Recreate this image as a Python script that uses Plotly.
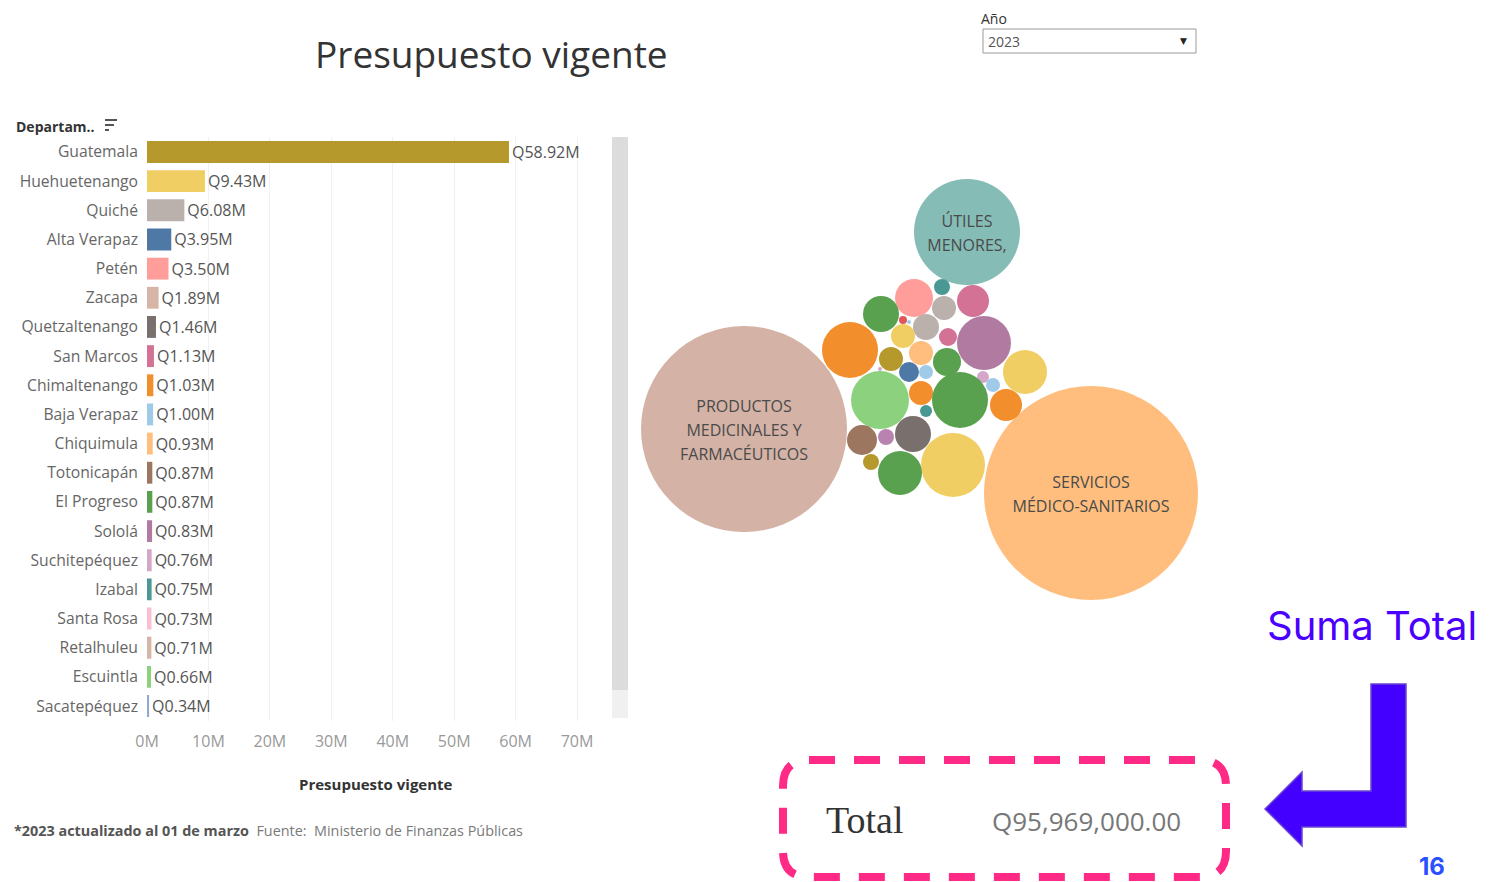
import plotly.graph_objects as go

OFF = 8                      # page body margin of the rendered HTML
W, H = 1499 - OFF, 882 - OFF

# ---------------- data ----------------
departamentos = ["Guatemala", "Huehuetenango", "Quiché", "Alta Verapaz", "Petén", "Zacapa",
                 "Quetzaltenango", "San Marcos", "Chimaltenango", "Baja Verapaz", "Chiquimula",
                 "Totonicapán", "El Progreso", "Sololá", "Suchitepéquez", "Izabal", "Santa Rosa",
                 "Retalhuleu", "Escuintla", "Sacatepéquez"]
presupuesto_m = [58.92, 9.43, 6.08, 3.95, 3.50, 1.89, 1.46, 1.13, 1.03, 1.00, 0.93,
                 0.87, 0.87, 0.83, 0.76, 0.75, 0.73, 0.71, 0.66, 0.34]
colores_dep = ["#b6992d", "#f1ce63", "#bab0ac", "#4e79a7", "#ff9d9a", "#d7b5a6",
               "#79706e", "#d37295", "#f28e2b", "#a0cbe8", "#ffbe7d",
               "#9d7660", "#59a14f", "#b07aa1", "#d4a6c8", "#499894", "#fabfd2",
               "#d7b5a6", "#8cd17d", "#8fa9d0"]
x_ticks = [0, 10, 20, 30, 40, 50, 60, 70]
x_tick_labels = ["0M", "10M", "20M", "30M", "40M", "50M", "60M", "70M"]

# bubble chart (renglones de gasto) – estimated centre/radius in the packed layout
bubble_labels = [["ÚTILES", "MENORES,"], ["PRODUCTOS", "MEDICINALES Y", "FARMACÉUTICOS"],
                 ["SERVICIOS", "MÉDICO-SANITARIOS"]]
bubble_x = [967, 744, 1091,
            914, 942, 973, 881, 944, 903, 909, 926, 948, 984, 903, 850, 921, 891, 947, 880,
            909, 926, 1025, 983, 993, 880, 921, 960, 1006, 926, 862, 886, 913, 953, 871, 900]
bubble_y = [232, 429, 493,
            298, 287, 301, 314, 308, 320, 322, 327, 337, 343, 336, 350, 353, 359, 362, 369,
            372, 372, 372, 377, 385, 400, 393, 400, 405, 411, 440, 437, 434, 465, 462, 473]
bubble_r = [53, 103, 107,
            19, 8, 16, 18, 12, 4, 2, 13, 9, 27, 12, 28, 12, 12, 14, 2,
            10, 7, 22, 6, 7, 29, 12, 28, 16, 6, 15, 8, 18, 32, 8, 22]
bubble_colors = ["#86bcb6", "#d4b2a6", "#ffbe7d",
                 "#ff9d9a", "#499894", "#d37295", "#59a14f", "#bab0ac", "#e15759", "#a0cbe8",
                 "#bab0ac", "#d37295", "#b07aa1", "#f1ce63", "#f28e2b", "#ffbe7d", "#b6992d",
                 "#59a14f", "#d4a6c8", "#4e79a7", "#a0cbe8", "#f1ce63", "#d4a6c8", "#a0cbe8",
                 "#8cd17d", "#f28e2b", "#59a14f", "#f28e2b", "#499894", "#9d7660", "#b983b0",
                 "#79706e", "#f1ce63", "#b6992d", "#59a14f"]

total_text = "Q95,969,000.00"

FONT = "Open Sans"


def fx(px):
    return (px - OFF) / W


def fy(py):
    return 1 - (py - OFF) / H


fig = go.Figure()

# ---------------- bar chart ----------------
fig.add_trace(go.Bar(
    orientation="h",
    y=departamentos,
    x=presupuesto_m,
    marker=dict(color=colores_dep, line=dict(width=0)),
    width=0.75,
    text=[f"Q{v:.2f}M" for v in presupuesto_m],
    textposition="outside",
    textfont=dict(family=FONT, size=16, color="#555555"),
    constraintext="none",
    cliponaxis=False,
    hoverinfo="skip",
    xaxis="x", yaxis="y",
))

# ---------------- bubble chart ----------------
fig.add_trace(go.Scatter(
    x=bubble_x, y=bubble_y,
    mode="markers",
    marker=dict(size=[2 * r for r in bubble_r], sizemode="diameter",
                color=bubble_colors, opacity=1, line=dict(width=0)),
    hoverinfo="skip",
    xaxis="x2", yaxis="y2",
))

# labels of the big bubbles (one text per line, 24 px line spacing)
lx, ly, lt = [], [], []
for i, lines in enumerate(bubble_labels):
    n = len(lines)
    for j, line in enumerate(lines):
        lx.append(bubble_x[i])
        ly.append(bubble_y[i] + 3 + (j - (n - 1) / 2) * 24)
        lt.append(line)
fig.add_trace(go.Scatter(
    x=lx, y=ly, mode="text", text=lt, textposition="middle center",
    textfont=dict(family=FONT, size=16, color="#4a4a4a"),
    hoverinfo="skip", xaxis="x2", yaxis="y2",
))

shapes = []
annotations = []

# scrollbar
shapes.append(dict(type="rect", xref="paper", yref="paper",
                   x0=fx(612), x1=fx(628), y0=fy(690), y1=fy(137),
                   fillcolor="#dcdcdc", line=dict(width=0), layer="below"))
shapes.append(dict(type="rect", xref="paper", yref="paper",
                   x0=fx(612), x1=fx(628), y0=fy(718), y1=fy(690),
                   fillcolor="#f0f0f0", line=dict(width=0), layer="below"))

# sort icon
for (x0, x1, yy) in [(105, 117, 120), (105, 114, 125), (105, 109, 130)]:
    shapes.append(dict(type="line", xref="paper", yref="paper",
                       x0=fx(x0), x1=fx(x1), y0=fy(yy), y1=fy(yy),
                       line=dict(color="#555555", width=2)))

# dropdown
shapes.append(dict(type="rect", xref="paper", yref="paper",
                   x0=fx(983), x1=fx(1196), y0=fy(53), y1=fy(29),
                   fillcolor="white", line=dict(color="#9a9a9a", width=1)))

# dashed rounded box around total
bx0, bx1, by0, by1, rr = 783, 1226, 760, 877, 26
path = (f"M {fx(bx0 + rr)},{fy(by0)} L {fx(bx1 - rr)},{fy(by0)} "
        f"Q {fx(bx1)},{fy(by0)} {fx(bx1)},{fy(by0 + rr)} "
        f"L {fx(bx1)},{fy(by1 - rr)} Q {fx(bx1)},{fy(by1)} {fx(bx1 - rr)},{fy(by1)} "
        f"L {fx(bx0 + rr)},{fy(by1)} Q {fx(bx0)},{fy(by1)} {fx(bx0)},{fy(by1 - rr)} "
        f"L {fx(bx0)},{fy(by0 + rr)} Q {fx(bx0)},{fy(by0)} {fx(bx0 + rr)},{fy(by0)} Z")
shapes.append(dict(type="path", xref="paper", yref="paper", path=path,
                   line=dict(color="#ff2a85", width=8, dash="26px,19px")))

# arrow
arrow_pts = [(1371, 684), (1406, 684), (1406, 827), (1302, 827), (1302, 846),
             (1265, 809), (1302, 772), (1302, 791), (1371, 791)]
apath = "M " + " L ".join(f"{fx(a)},{fy(b)}" for a, b in arrow_pts) + " Z"
shapes.append(dict(type="path", xref="paper", yref="paper", path=apath,
                   fillcolor="#4400ff", line=dict(color="#6a45cf", width=1.5)))

# texts
annotations += [
    dict(x=fx(491), y=fy(53), text="Presupuesto vigente", showarrow=False,
         xref="paper", yref="paper", xanchor="center", yanchor="middle",
         font=dict(family=FONT, size=37, color="#333333")),
    dict(x=fx(14), y=fy(126), text="<b>Departam..</b>", showarrow=False,
         xref="paper", yref="paper", xanchor="left", yanchor="middle",
         font=dict(family=FONT, size=14, color="#333333")),
    dict(x=fx(376), y=fy(784), text="<b>Presupuesto vigente</b>", showarrow=False,
         xref="paper", yref="paper", xanchor="center", yanchor="middle",
         font=dict(family=FONT, size=15, color="#333333")),
    dict(x=fx(12), y=fy(830),
         text="<span style='color:#555555'><b>*2023 actualizado al 01 de marzo</b></span>"
              "  <span style='color:#7a7a7a'>Fuente:  Ministerio de Finanzas Públicas</span>",
         showarrow=False, xref="paper", yref="paper", xanchor="left", yanchor="middle",
         font=dict(family=FONT, size=14.4, color="#555555")),
    dict(x=fx(980), y=fy(8), text="Año", showarrow=False,
         xref="paper", yref="paper", xanchor="left", yanchor="top",
         borderpad=0, font=dict(family=FONT, size=14, color="#333333")),
    dict(x=fx(986), y=fy(41), text="2023", showarrow=False,
         xref="paper", yref="paper", xanchor="left", yanchor="middle",
         font=dict(family=FONT, size=14, color="#555555")),
    dict(x=fx(1183), y=fy(41), text="▼", showarrow=False,
         xref="paper", yref="paper", xanchor="center", yanchor="middle",
         font=dict(family="DejaVu Sans", size=9, color="#222222")),
    dict(x=fx(865), y=fy(820), text="Total", showarrow=False,
         xref="paper", yref="paper", xanchor="center", yanchor="middle",
         font=dict(family="Liberation Serif", size=38, color="#333333")),
    dict(x=fx(1086), y=fy(821), text=total_text, showarrow=False,
         xref="paper", yref="paper", xanchor="center", yanchor="middle",
         font=dict(family=FONT, size=26, color="#777777")),
    dict(x=fx(1372), y=fy(625), text="Suma Total", showarrow=False,
         xref="paper", yref="paper", xanchor="center", yanchor="middle",
         font=dict(family="Inter", size=40, color="#4a00ff")),
    dict(x=fx(1432), y=fy(866), text="<b>16</b>", showarrow=False,
         xref="paper", yref="paper", xanchor="center", yanchor="middle",
         font=dict(family="Inter", size=24, color="#2a50ff")),
]

fig.update_layout(
    width=W, height=H,
    margin=dict(l=0, r=0, t=0, b=0, autoexpand=False),
    paper_bgcolor="white", plot_bgcolor="white",
    showlegend=False,
    xaxis=dict(domain=[fx(147), fx(605)], range=[0, 74.55],
               tickvals=x_ticks, ticktext=x_tick_labels,
               tickfont=dict(family=FONT, size=16, color="#999999"),
               showgrid=True, gridcolor="#f0f0f0", gridwidth=1,
               zeroline=False, showline=False, ticks="",
               ticklabelstandoff=9, fixedrange=True, automargin=False),
    yaxis=dict(domain=[fy(720.6), fy(137.4)],
               categoryorder="array", categoryarray=departamentos,
               autorange="reversed",
               tickfont=dict(family=FONT, size=15.7, color="#666666"),
               showgrid=False, zeroline=False, showline=False, ticks="",
               ticklabelstandoff=8, fixedrange=True, automargin=False),
    xaxis2=dict(domain=[fx(630), fx(1230)], range=[630, 1230], visible=False,
                fixedrange=True, automargin=False),
    yaxis2=dict(domain=[fy(620), fy(160)], range=[620, 160], visible=False,
                fixedrange=True, automargin=False),
    shapes=shapes,
    annotations=annotations,
)

fig.write_html("out.html")
